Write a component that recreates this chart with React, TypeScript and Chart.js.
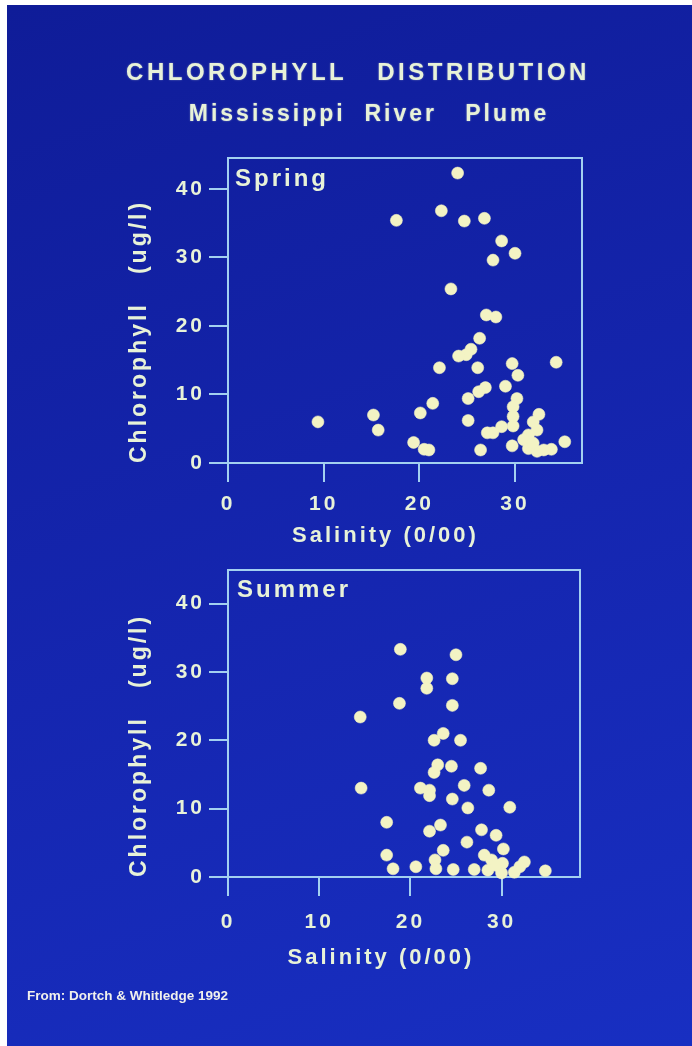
import React, { useEffect, useRef } from "react";
import { Chart, registerables } from "chart.js";

Chart.register(...registerables);

// ---------- data ----------
const xTickValues = [0, 10, 20, 30];
const yTickValues = [0, 10, 20, 30, 40];

const springSalinity = [
  24.0, 22.3, 17.6, 24.7, 26.8, 28.6, 30.0, 27.7, 23.3, 27.0, 28.0, 26.3, 25.4, 24.9, 24.1, 22.1, 26.1, 29.7,
  30.3, 34.3, 29.0, 26.9, 26.2, 25.1, 21.4, 20.1, 30.2, 29.8, 29.8, 29.8, 9.4, 15.2, 15.7, 25.1, 32.5, 31.9,
  28.6, 27.7, 27.1, 32.3, 31.4, 19.4, 20.5, 21.0, 26.4, 29.7, 30.9, 31.4, 32.3, 33.0, 33.8, 35.2, 31.9,
];
const springChlorophyll = [
  42.3, 36.8, 35.4, 35.3, 35.7, 32.4, 30.6, 29.6, 25.4, 21.6, 21.3, 18.2, 16.6, 15.8, 15.6, 13.9, 13.9, 14.5,
  12.8, 14.7, 11.2, 11.0, 10.4, 9.4, 8.7, 7.3, 9.4, 8.2, 6.8, 5.4, 6.0, 7.0, 4.8, 6.2, 7.1, 6.0,
  5.3, 4.4, 4.4, 4.8, 4.1, 3.0, 2.0, 1.9, 1.9, 2.5, 3.4, 2.1, 1.7, 1.9, 2.0, 3.1, 2.9,
];

const summerSalinity = [
  18.9, 25.0, 21.8, 21.8, 24.6, 18.8, 24.6, 14.5, 23.6, 22.6, 25.5, 23.0, 22.6, 24.5, 27.7, 14.6, 21.1, 22.1,
  22.1, 25.9, 28.6, 24.6, 26.3, 30.9, 17.4, 23.3, 22.1, 27.8, 29.4, 26.2, 23.6, 30.2, 17.4, 28.1, 28.9, 22.7,
  32.5, 18.1, 20.6, 22.8, 24.7, 27.0, 28.5, 30.1, 30.0, 31.4, 34.8, 29.4, 32.0,
];
const summerChlorophyll = [
  33.3, 32.5, 29.1, 27.6, 29.0, 25.4, 25.1, 23.4, 21.0, 20.0, 20.0, 16.4, 15.3, 16.2, 15.9, 13.0, 13.0, 12.7,
  11.9, 13.4, 12.7, 11.4, 10.1, 10.2, 8.0, 7.6, 6.7, 6.9, 6.1, 5.1, 3.9, 4.1, 3.2, 3.2, 2.5, 2.5,
  2.2, 1.2, 1.5, 1.2, 1.1, 1.1, 1.0, 2.0, 0.6, 0.7, 0.9, 1.7, 1.5,
];

const TITLE = "CHLOROPHYLL   DISTRIBUTION";
const SUBTITLE = "Mississippi  River   Plume";
const X_TITLE = "Salinity (0/00)";
const Y_TITLE = "Chlorophyll   (ug/l)";
const SOURCE = "From: Dortch & Whitledge 1992";

// ---------- styles ----------
const FONT = '"Liberation Sans", Arial, Helvetica, sans-serif';
const TEXT = "#e8f2d8";
const LINE = "#a3d0f0";
const DOT = "#f3f3c4";

Chart.defaults.font.family = FONT;

const spacingPlugin = {
  id: "spacing",
  beforeDraw(chart: any) {
    chart.ctx.letterSpacing = "3px";
  },
  afterDraw(chart: any) {
    chart.ctx.letterSpacing = "0px";
  },
};

const framePlugin = {
  id: "frame",
  beforeDatasetsDraw(chart: any) {
    const { ctx, chartArea: a } = chart;
    ctx.save();
    ctx.strokeStyle = LINE;
    ctx.lineWidth = 2;
    ctx.strokeRect(a.left, a.top, a.right - a.left, a.bottom - a.top);
    ctx.restore();
  },
  afterDatasetsDraw(chart: any, _args: any, opts: any) {
    const { ctx, chartArea: a } = chart;
    ctx.save();
    ctx.fillStyle = TEXT;
    ctx.font = `bold 24px ${FONT}`;
    ctx.textBaseline = "top";
    ctx.textAlign = "left";
    ctx.fillText(opts.text, a.left + opts.dx, a.top + opts.dy);
    ctx.restore();
  },
};

type PanelProps = {
  season: string;
  salinity: number[];
  chlorophyll: number[];
  left: number;
  top: number;
  width: number;
  height: number;
  padTop: number;
  xMax: number;
  yMax: number;
  yAxisW: number;
  rightW: number;
  xAxisH: number;
  xTickPad: number;
  titlePadBottom: number;
  labelDx: number;
  labelDy: number;
};

function ScatterPanel(p: PanelProps) {
  const ref = useRef<HTMLCanvasElement>(null);
  useEffect(() => {
    const points = p.salinity.map((s, i) => ({ x: s, y: p.chlorophyll[i] }));
    const chart = new Chart(ref.current as HTMLCanvasElement, {
      type: "scatter",
      data: {
        datasets: [
          {
            label: p.season,
            data: points,
            backgroundColor: DOT,
            borderColor: "rgba(243,243,196,0.55)",
            borderWidth: 1,
            pointRadius: 6,
            pointHoverRadius: 6,
            clip: false as any,
          },
        ],
      },
      options: {
        animation: false,
        responsive: false,
        devicePixelRatio: 1,
        layout: { padding: { top: p.padTop, left: 0, right: 0, bottom: 0 } },
        plugins: {
          legend: { display: false },
          tooltip: { enabled: false },
          title: {
            display: true,
            position: "bottom",
            text: X_TITLE,
            color: TEXT,
            font: { size: 22, weight: "bold" },
            padding: { top: 0, bottom: p.titlePadBottom },
          },
          frame: { text: p.season, dx: p.labelDx, dy: p.labelDy },
        } as any,
        scales: {
          x: {
            type: "linear",
            position: "bottom",
            min: 0,
            max: p.xMax,
            afterBuildTicks: (s: any) => {
              s.ticks = xTickValues.map((v) => ({ value: v }));
            },
            afterFit: (s: any) => {
              s.height = p.xAxisH;
            },
            grid: {
              display: true,
              drawOnChartArea: false,
              drawTicks: true,
              tickLength: 19,
              color: LINE,
              lineWidth: 2,
            },
            border: { display: true, color: LINE, width: 2 },
            ticks: {
              color: TEXT,
              font: { size: 21, weight: "bold" },
              padding: p.xTickPad,
              maxRotation: 0,
              autoSkip: false,
            },
          },
          y: {
            type: "linear",
            position: "left",
            min: 0,
            max: p.yMax,
            afterBuildTicks: (s: any) => {
              s.ticks = yTickValues.map((v) => ({ value: v }));
            },
            afterFit: (s: any) => {
              s.width = p.yAxisW;
            },
            grid: {
              display: true,
              drawOnChartArea: false,
              drawTicks: true,
              tickLength: 19,
              color: LINE,
              lineWidth: 2,
            },
            border: { display: true, color: LINE, width: 2 },
            ticks: {
              color: TEXT,
              font: { size: 21, weight: "bold" },
              padding: 4,
              autoSkip: false,
            },
            title: {
              display: true,
              text: Y_TITLE,
              align: "start",
              color: TEXT,
              font: { size: 23, weight: "bold" },
              padding: { top: 26, bottom: 0 },
            },
          },
          y2: {
            type: "linear",
            position: "right",
            display: true,
            afterFit: (s: any) => {
              s.width = p.rightW;
            },
            grid: { display: false },
            ticks: { display: false },
            border: { display: false },
          },
        },
      } as any,
      plugins: [spacingPlugin, framePlugin],
    });
    return () => chart.destroy();
  }, []);
  return (
    <canvas
      ref={ref}
      width={p.width}
      height={p.height}
      style={{ position: "absolute", left: p.left, top: p.top, width: p.width, height: p.height }}
    />
  );
}

export default function App() {
  const textBase: React.CSSProperties = {
    position: "absolute",
    color: TEXT,
    fontFamily: FONT,
    fontWeight: "bold",
    whiteSpace: "pre",
    transform: "translateX(-50%)",
    textShadow: "0 0 2px rgba(232,242,216,0.45)",
  };
  return (
    <div>
      <div
        style={{
          position: "fixed",
          left: 7,
          top: 5,
          right: 0,
          bottom: 0,
          background: "linear-gradient(160deg, #0f1c98 0%, #1526b0 55%, #182fc2 100%)",
        }}
      />
      <div style={{ ...textBase, left: 358, top: 60, fontSize: 24, lineHeight: "24px", letterSpacing: "3.5px" }}>
        {TITLE}
      </div>
      <div style={{ ...textBase, left: 369, top: 102, fontSize: 23, lineHeight: "23px", letterSpacing: "3px" }}>
        {SUBTITLE}
      </div>
      <ScatterPanel
        season="Spring"
        salinity={springSalinity}
        chlorophyll={springChlorophyll}
        left={100}
        top={140}
        width={571}
        height={420}
        padTop={18}
        xMax={37}
        yMax={44.5}
        yAxisW={128}
        rightW={89}
        xAxisH={59.6}
        xTickPad={10}
        titlePadBottom={11}
        labelDx={7}
        labelDy={9.5}
      />
      <ScatterPanel
        season="Summer"
        salinity={summerSalinity}
        chlorophyll={summerChlorophyll}
        left={100}
        top={550}
        width={562}
        height={440}
        padTop={20}
        xMax={38.6}
        yMax={44.9}
        yAxisW={128}
        rightW={82}
        xAxisH={67.6}
        xTickPad={14}
        titlePadBottom={19}
        labelDx={9}
        labelDy={8.5}
      />
      <div
        style={{
          position: "absolute",
          left: 27,
          top: 988,
          color: "#f0f0ec",
          fontFamily: FONT,
          fontWeight: "bold",
          fontSize: 13.5,
          lineHeight: "16px",
          whiteSpace: "pre",
        }}
      >
        {SOURCE}
      </div>
    </div>
  );
}
